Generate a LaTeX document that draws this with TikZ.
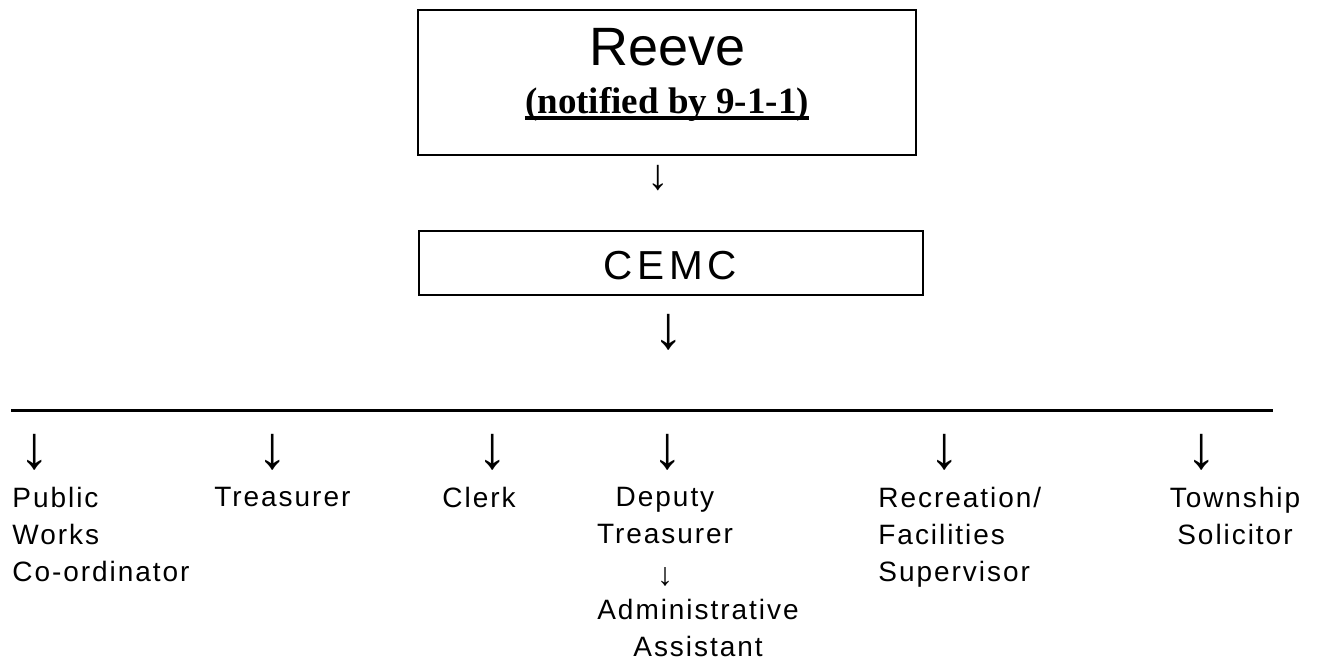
\documentclass[tikz,border=0pt]{standalone}
\usepackage{fontspec}
\setmainfont{Liberation Sans}
\newfontfamily\spacedfont[LetterSpace=7]{Liberation Sans}
\newfontfamily\widefont[LetterSpace=12]{Liberation Sans}
\newfontfamily\notefont{Liberation Serif}
\begin{document}
\begin{tikzpicture}[
        x=0.5pt, y=-0.5pt,
        box/.style={draw, rectangle, line width=1.2pt, inner sep=0pt},
        role/.style={inner sep=0pt, font=\spacedfont\fontsize{14pt}{18.5pt}\selectfont}, % staff labels under the rule
        down/.style={inner sep=0pt}
    ]
    \useasboundingbox (0,0) rectangle (1319,661);
    % top of the chain
    \node[box, minimum width=249pt, minimum height=72.5pt] (reeve) at (667,82.5) {};
    \node[anchor=base, inner sep=0pt, font=\fontsize{27pt}{27pt}\selectfont] (reevetxt) at (668,65) {Reeve};
    \node[anchor=base, inner sep=0pt, font=\notefont\bfseries\fontsize{18.5pt}{18.5pt}\selectfont] (notified) at (667,113) {(notified by 9-1-1)};
    \draw[line width=1.8pt] ([yshift=-2.35pt]notified.base west) -- ([yshift=-2.35pt]notified.base east);
    \node[down, font=\fontsize{21.5pt}{21.5pt}\selectfont] (toCemc) at (658,178.5) {↓};
    \node[box, minimum width=252pt, minimum height=32pt] (cemc) at (671,263) {};
    \node[anchor=base, inner sep=0pt, font=\widefont\fontsize{20.25pt}{20.25pt}\selectfont] (cemctxt) at (670,279) {CEMC};
    \node[down, font=\fontsize{30.4pt}{30.4pt}\selectfont] (toStaff) at (669,332.5) {↓};
    \coordinate (ruleL) at (11,410);
    \coordinate (ruleR) at (1273,410);
    \draw[line width=1.5pt] (ruleL) -- (ruleR);
    \foreach \x/\n in {35/pw,273/tr,493/cl,668/dp,945/rc,1202/ts}
        \node[down, font=\fontsize{30.4pt}{30.4pt}\selectfont] (arr-\n) at (\x,452.5) {↓};
    % staff
    \node[role, anchor=north west, align=left] (works) at (12,487) {Public\\Works\\Co-ordinator};
    \node[role, anchor=north west] (treasurer) at (214,487) {Treasurer};
    \node[role, anchor=north west] (clerk) at (442,487) {Clerk};
    \node[role, anchor=north, align=center] (deputy) at (665,487) {Deputy\\Treasurer};
    \node[down, font=\fontsize{16pt}{16pt}\selectfont] (toAdmin) at (665,577) {↓};
    \node[role, anchor=north, align=center] (admin) at (698,599) {Administrative\\Assistant};
    \node[role, anchor=north west, align=left] (recreation) at (878,487) {Recreation/\\Facilities\\Supervisor};
    \node[role, anchor=north, align=center] (solicitor) at (1235,487) {Township\\Solicitor};
\end{tikzpicture}
\end{document}
